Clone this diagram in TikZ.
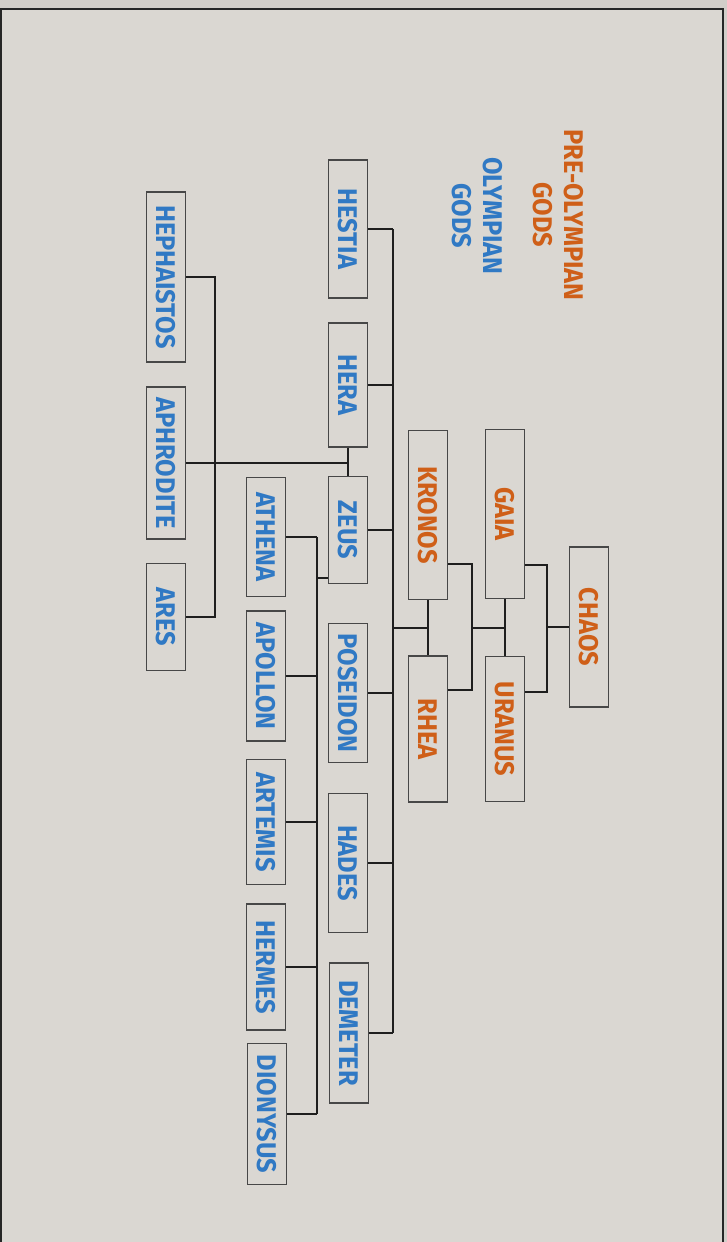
\documentclass[tikz,border=0pt]{standalone}
\usepackage{fontspec}
\newfontfamily\godfont{Fira Sans}[FakeStretch=0.94]
\usepackage{tikz}
\usetikzlibrary{calc}
\definecolor{cOly}{RGB}{48,121,196}
\definecolor{cPre}{RGB}{207,95,24}
\definecolor{cBack}{RGB}{218,215,210}
\definecolor{cOut}{RGB}{210,206,201}
\definecolor{cLine}{RGB}{30,30,30}

\tikzset{
  godbox/.style={draw=black!72, line width=1.3pt, minimum width=39pt, inner sep=0pt,
    font=\godfont\bfseries\fontsize{27}{32}\selectfont},
  oly/.style={godbox, text=cOly},
  pre/.style={godbox, text=cPre},
  kin/.style={draw=cLine, line width=1.5pt},
  legend/.style={inner sep=0pt, font=\godfont\bfseries\fontsize{27}{31}\selectfont}
}

\begin{document}
\begin{tikzpicture}[x=1pt, y=-1pt]
  \useasboundingbox (0,0) rectangle (727,1242);
  \fill[cOut] (0,0) rectangle (727,1242);
  \fill[cBack] (1,9) rectangle (723,1242);
  \draw[line width=2.4pt, black!85] (1,1242) -- (1,9) -- (723,9) -- (723,1242);

  % legend
  \node[legend, text=cPre] (preleg) at (555,215)
    {\rotatebox{-90}{\begin{tabular}{@{}c@{}}PRE-OLYMPIAN\\GODS\end{tabular}}};
  \node[legend, text=cOly] (olyleg) at (474,216)
    {\rotatebox{-90}{\begin{tabular}{@{}c@{}}OLYMPIAN\\GODS\end{tabular}}};

  % pre-olympian gods
  \foreach \n/\x/\y/\h/\t in {chaos/589/627/160/CHAOS, gaia/505/514/169/GAIA,
      uranus/505/729/145/URANUS, kronos/428/515/169/KRONOS, rhea/428/729/146/RHEA} {
    \node[pre, minimum height=\h pt] (\n) at (\x,\y) {\rotatebox{-90}{\t}};
  }

  % olympian gods
  \foreach \n/\x/\y/\h/\t in {hestia/348/229/138/HESTIA, hera/348/385/124/HERA,
      zeus/348/530/107/ZEUS, poseidon/348/693/139/POSEIDON,
      hades/348/863/139/HADES, demeter/349/1033/140/DEMETER,
      hephaistos/166/277/170/HEPHAISTOS, aphrodite/166/463/152/APHRODITE,
      ares/166/617/107/ARES, athena/266/537/119/ATHENA,
      apollon/266/676/130/APOLLON, artemis/266/822/125/ARTEMIS,
      hermes/266/967/126/HERMES, dionysus/267/1114/141/DIONYSUS} {
    \node[oly, minimum height=\h pt] (\n) at (\x,\y) {\rotatebox{-90}{\t}};
  }

  % rails and junctions
  \coordinate (gRail) at (547,565);
  \coordinate (uRail) at (547,692);
  \coordinate (guMid) at (505,628);
  \coordinate (kRail) at (472,564);
  \coordinate (rRail) at (472,690);
  \coordinate (krMid) at (428,628);
  \coordinate (spine) at (393,628);
  \coordinate (zhMid) at (348,463);
  \coordinate (haRail) at (215,450);
  \coordinate (zcRail) at (317,578);

  \draw[kin] (gaia.east |- gRail) -- (gRail) -- (uRail) -- (uranus.east |- uRail);
  \draw[kin] (chaos.west) -- (chaos.west -| gRail);
  \draw[kin] (gaia.south) -- (uranus.north);
  \draw[kin] (guMid) -- (guMid -| kRail);
  \draw[kin] (kronos.east |- kRail) -- (kRail) -- (rRail) -- (rhea.east |- rRail);
  \draw[kin] (kronos.south) -- (rhea.north);
  \draw[kin] (krMid) -- (spine);
  \draw[kin] (hestia.east -| spine) -- (demeter.east -| spine);
  \foreach \n in {hestia, hera, zeus, poseidon, hades, demeter} {
    \draw[kin] (\n.east) -- (\n.east -| spine);
  }
  \draw[kin] (hera.south) -- (zeus.north);
  \draw[kin] (zhMid) -- (aphrodite.east);
  \draw[kin] (hephaistos.east) -| (haRail) |- (ares.east);
  \draw[kin] (zeus.west |- zcRail) -- (zcRail);
  \draw[kin] (athena.east -| zcRail) -- (dionysus.east -| zcRail);
  \foreach \n in {athena, apollon, artemis, hermes, dionysus} {
    \draw[kin] (\n.east) -- (\n.east -| zcRail);
  }
\end{tikzpicture}
\end{document}
